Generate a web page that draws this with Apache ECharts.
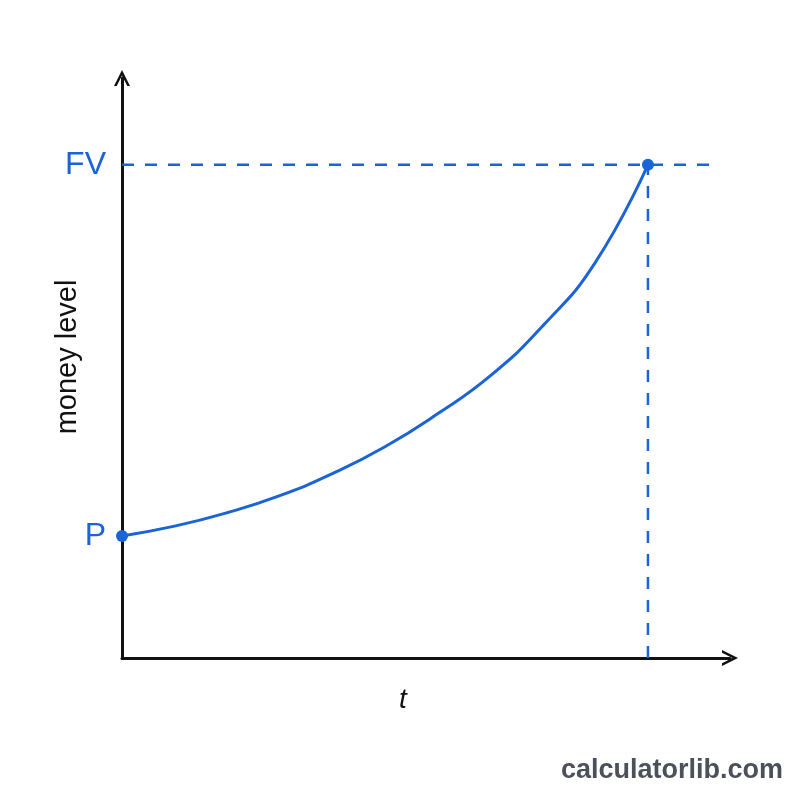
<!DOCTYPE html>
<html>
<head>
<meta charset="utf-8">
<script src="https://cdn.jsdelivr.net/npm/echarts@6/dist/echarts.min.js"></script>
<style>
  html, body { margin: 0; padding: 0; background: #fff; }
  #chart { width: 800px; height: 800px; }
</style>
</head>
<body>
<div id="chart"></div>
<script>
// growth curve (t in years, money in units of P)
const tValues = [0, 1, 2, 3, 4, 5, 6, 7, 8, 9, 10];
const moneyValues = [1.00, 1.08, 1.19, 1.33, 1.51, 1.73, 2.00, 2.31, 2.72, 3.24, 4.04];
const pValue = 1.00;
const fvValue = 4.04;
const tEnd = 10;
const hLineEnd = 11.33;
const markLabels = ["P", "FV"];

const blue = "#1a64d6";
// open chevron for the axis ends
const chevron = "path://M0,16 L8,0 L16,16 L13.3,16 L8,5.6 L2.7,16 Z";

const myChart = echarts.init(document.getElementById("chart"));
let option = {
  backgroundColor: "#ffffff",
  animation: false,
  title: {
    text: "calculatorlib.com",
    right: 12,
    bottom: 11,
    textStyle: {
      fontFamily: "Liberation Sans",
      fontSize: 27,
      fontWeight: "bold",
      color: "#4b505b"
    }
  },
  graphic: [
    {
      type: "text",
      x: 68,
      y: 357,
      rotation: Math.PI / 2,
      style: {
        text: "money level",
        fontFamily: "Liberation Sans",
        fontSize: 29,
        fill: "#111",
        align: "center",
        verticalAlign: "middle"
      }
    }
  ],
  grid: { left: 122, top: 78, right: 70, bottom: 142 },
  xAxis: {
    type: "value",
    min: 0,
    max: 11.56,
    name: "t",
    nameLocation: "middle",
    nameGap: 28,
    nameTextStyle: {
      fontFamily: "Liberation Sans",
      fontStyle: "italic",
      fontSize: 28,
      color: "#111",
      padding: [0, 46, 0, 0]
    },
    axisLine: {
      lineStyle: { color: "#111", width: 3 },
      symbol: ["none", chevron],
      symbolSize: [16, 16]
    },
    axisTick: { show: false },
    axisLabel: { show: false },
    splitLine: { show: false }
  },
  yAxis: {
    type: "value",
    min: 0,
    max: 4.75,
    axisLine: {
      lineStyle: { color: "#111", width: 3 },
      symbol: ["none", chevron],
      symbolSize: [16, 16]
    },
    axisTick: { show: false },
    axisLabel: { show: false },
    splitLine: { show: false }
  },
  series: [
    {
      type: "line",
      data: [[0, fvValue], [hLineEnd, fvValue]],
      symbol: "none",
      lineStyle: { color: blue, width: 2.5, type: [12, 11] },
      z: 3
    },
    {
      type: "line",
      data: [[tEnd, 0], [tEnd, fvValue]],
      symbol: "none",
      lineStyle: { color: blue, width: 2.5, type: [12, 11] },
      z: 3
    },
    {
      type: "line",
      data: tValues.map((t, i) => [t, moneyValues[i]]),
      smooth: 0.5,
      symbol: "none",
      lineStyle: { color: blue, width: 3 },
      z: 4
    },
    {
      type: "scatter",
      data: [[0, pValue], [tEnd, fvValue]],
      symbol: "circle",
      symbolSize: 12,
      itemStyle: { color: blue, opacity: 1 },
      z: 5
    },
    {
      type: "scatter",
      data: [[0, pValue], [0, fvValue]],
      symbolSize: 0,
      itemStyle: { opacity: 1 },
      label: {
        show: true,
        position: "left",
        distance: 16,
        formatter: p => markLabels[p.dataIndex],
        fontFamily: "Liberation Sans",
        fontSize: 32,
        color: blue
      },
      z: 6
    }
  ]
};
myChart.setOption(option);
window.addEventListener("resize", () => myChart.resize());
</script>
</body>
</html>
